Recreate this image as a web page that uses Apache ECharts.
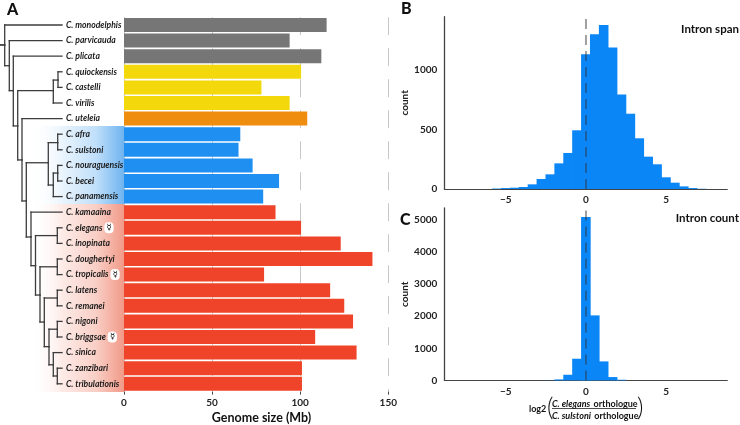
<!DOCTYPE html>
<html>
<head>
<meta charset="utf-8">
<style>html,body{margin:0;padding:0;background:#fff}#c{width:740px;height:425px}</style>
<script src="https://cdn.jsdelivr.net/npm/echarts@6/dist/echarts.min.js"></script>
</head>
<body>
<div id="c"></div>
<script>
const species = ['C. monodelphis','C. parvicauda','C. plicata','C. quiockensis','C. castelli','C. virilis','C. uteleia','C. afra','C. sulstoni','C. nouraguensis','C. becei','C. panamensis','C. kamaaina','C. elegans','C. inopinata','C. doughertyi','C. tropicalis','C. latens','C. remanei','C. nigoni','C. briggsae','C. sinica','C. zanzibari','C. tribulationis'];
const genomeSize = [115,94,112,100.5,78,94,104,66,65,73,88,79,86,100.5,123,141,79.5,117,125,130,108.5,132,101,101];
const cladeOfSpecies = ['g','g','g','y','y','y','o','b','b','b','b','b','r','r','r','r','r','r','r','r','r','r','r','r'];
const hermaphrodites = ['C. elegans','C. tropicalis','C. briggsae'];
const genomeTicks = [0,50,100,150];
// tree: [id, parent, depth, row]
const treeNodes = [
 ['root',null,0,1.28],['n1','root',4.7,1.28],['n2','n1',9.3,2.61],['n3','n2',13.3,4.21],['n4','n3',17.7,6.47],
 ['n5','n4',53.3,4.21],['n6','n5',58,3.53],['n7','n4',22,8.65],['n8','n7',26.3,11.28],['n9','n8',48.3,8.83],
 ['n10','n9',57.7,7.54],['n11','n9',53.3,10.26],['n12','n11',57.7,9.49],['n13','n8',31,13.59],['n14','n13',35.5,15.43],
 ['n15','n14',57.3,13.5],['n16','n14',40,17.31],['n17','n16',57.3,15.5],['n18','n16',44.3,19.04],['n19','n18',57.3,17.5],
 ['n20','n18',49,20.62],['n21','n20',57.3,19.5],['n22','n20',53.3,21.78],['n23','n22',57.3,22.5]
];
const tipParents = ['n1','n2','n3','n6','n6','n5','n7','n10','n10','n12','n12','n11','n13','n15','n15','n17','n17','n19','n19','n21','n21','n22','n23','n23'];
const tipDepth = 62;
// histograms: bin centre = index * binWidth
const binWidth = 0.555;
const spanBins = [-10,-9,-8,-7,-6,-5,-4,-3,-2,-1,0,1,2,3,4,5,6,7,8,9,10,11,12,13];
const spanCounts = [4,8,11,17,39,84,123,215,302,492,1129,1296,1375,1185,793,631,425,271,207,98,53,22,8,2];
const countBins = [-4,-3,-2,-1,0,1,2,3,4];
const countCounts = [5,31,176,675,5088,2025,592,104,20];
const spanTicks = [0,500,1000];
const countTicks = [0,1000,2000,3000,4000,5000];

const palette = {g:'#767676',y:'#f3d80c',o:'#ef8e0e',b:'#1f90f2',r:'#f0442a'};
const F = 'Lato,"Noto Sans",sans-serif';
const axisText = {fontFamily:F,fontSize:10,fontWeight:700,color:'#222'};
const nodeMap = Object.fromEntries(treeNodes.map(n=>[n[0],n]));
const segments = [];
treeNodes.forEach(n=>{ if(n[1]){ const p=nodeMap[n[1]]; segments.push([p[2],p[3],p[2],n[3]],[p[2],n[3],n[2],n[3]]); }});
segments.push([0,nodeMap.root[3],nodeMap.n1[2],nodeMap.root[3]]);
tipParents.forEach((pid,i)=>{ const p=nodeMap[pid]; segments.push([p[2],p[3],p[2],i],[p[2],i,tipDepth,i]); });

function histGrid(idx,top,height,ymax,ticks,bins,counts){
  return {
    grid:{left:444.3,width:283,top,height},
    xAxis:{gridIndex:idx,type:'value',min:-8.83,max:8.82,
      axisLine:{show:true,onZero:false,lineStyle:{color:'#444',width:1}},axisTick:{show:false},splitLine:{show:false},
      axisLabel:Object.assign({show:true,margin:6,customValues:[-5,0,5],formatter:v=>String(v).replace('-','\u2212')},axisText)},
    yAxis:{gridIndex:idx,type:'value',min:0,max:ymax,
      axisLine:{show:true,onZero:false,lineStyle:{color:'#444',width:1.3}},axisTick:{show:false},splitLine:{show:false},
      axisLabel:Object.assign({margin:7,customValues:ticks,formatter:v=>String(v)},axisText),
      name:'count',nameLocation:'middle',nameGap:32,nameTextStyle:Object.assign({},axisText)},
    series:{type:'bar',xAxisIndex:idx,yAxisIndex:idx,barWidth:9.6,z:3,itemStyle:{color:'#0a86f7'},
      data:bins.map((b,i)=>[b*binWidth,counts[i]]),
      markLine:{silent:true,symbol:'none',label:{show:false},z:5,animation:false,
        lineStyle:{type:[10,6],color:'rgba(50,50,50,0.5)',width:1.8},data:[{xAxis:0}]}}
  };
}
const B = histGrid(1,16.7,172.3,1444,spanTicks,spanBins,spanCounts);
const C = histGrid(2,208,172.4,5370,countTicks,countBins,countCounts);

const tStyle = (text,font,x,y,align)=>({type:'text',x,y,z:10,silent:true,style:{text,font,fill:'#111',textAlign:align||'left',textVerticalAlign:'middle'}});
const fracRich = {i:{font:'italic 700 9px Lato',fill:'#111'},n:{font:'700 9px Lato',fill:'#111'}};

const option = {
  animation:false,
  graphic:[
    {type:'rect',shape:{x:30,y:126,width:94,height:78},z:0,silent:true,
      style:{fill:new echarts.graphic.LinearGradient(0,0,1,0,[{offset:0,color:'rgba(255,255,255,0)'},{offset:0.35,color:'#e9f4fd'},{offset:0.7,color:'#c0dffa'},{offset:1,color:'#70b4f0'}])}},
    {type:'rect',shape:{x:30,y:204,width:94,height:188},z:0,silent:true,
      style:{fill:new echarts.graphic.LinearGradient(0,0,1,0,[{offset:0,color:'rgba(255,255,255,0)'},{offset:0.35,color:'#fdeae6'},{offset:0.7,color:'#f9cfc6'},{offset:1,color:'#f19a88'}])}},
    tStyle('A','900 16px Lato',7,9.5),tStyle('B','900 16px Lato',401,8.5),tStyle('C','900 16px Lato',400,220),
    tStyle('Intron span','700 11.5px Lato',739,29,'right'),tStyle('Intron count','700 11.5px Lato',739,218,'right'),
    tStyle('Genome size (Mb)','700 12.5px Lato',261.5,418,'center'),
    tStyle('log2','700 9px Lato',529,409),
    {type:'text',x:547,y:408,z:10,silent:true,style:{text:'(',font:'300 25px Lato',fill:'#111',textVerticalAlign:'middle'}},
    {type:'text',x:637,y:408,z:10,silent:true,style:{text:')',font:'300 25px Lato',fill:'#111',textVerticalAlign:'middle'}},
    {type:'text',x:552,y:398,z:10,silent:true,style:{rich:fracRich,text:'{i|C. elegans} {n|orthologue}'}},
    {type:'text',x:552,y:410,z:10,silent:true,style:{rich:fracRich,text:'{i|C. sulstoni} {n|orthologue}'}},
    {type:'line',shape:{x1:552,y1:408.5,x2:636,y2:408.5},z:10,silent:true,style:{stroke:'#222',lineWidth:0.8}}
  ],
  grid:[{left:124,width:264.3,top:17.2,height:374.4},B.grid,C.grid,{left:0,width:124,top:17.2,height:374.4}],
  xAxis:[
    {gridIndex:0,type:'value',min:0,max:150,interval:50,
      axisLine:{show:false},axisTick:{show:true,length:3,lineStyle:{color:'#444'}},
      splitLine:{show:true,lineStyle:{color:'#c8c8c8',type:[18,13],width:1}},
      axisLabel:Object.assign({margin:6,customValues:genomeTicks,
        formatter:v=>v===150?'{t|150}':String(v),
        rich:{t:Object.assign({},axisText,{padding:[0,0,6,0]})}},axisText)},
    B.xAxis,C.xAxis,
    {gridIndex:3,type:'value',min:0,max:124,show:false}
  ],
  yAxis:[
    {gridIndex:0,type:'category',inverse:true,data:species,
      axisLine:{show:false},axisTick:{show:false},
      axisLabel:{interval:0,align:'left',margin:58,fontFamily:F,fontSize:8.6,fontStyle:'italic',fontWeight:700,color:'#1a1a1a',
        formatter:v=>hermaphrodites.includes(v)?v+' {h|\u263F}':v,
        rich:{h:{fontFamily:'DejaVu Sans',fontSize:8.5,fontStyle:'normal',color:'#111',backgroundColor:'#fff',borderRadius:4,padding:[1,2,1,2]}}}},
    B.yAxis,C.yAxis,
    {gridIndex:3,type:'value',inverse:true,min:-0.5,max:23.5,show:false}
  ],
  series:[
    {type:'bar',xAxisIndex:0,yAxisIndex:0,barWidth:14,z:3,
      data:genomeSize.map((v,i)=>({value:v,itemStyle:{color:palette[cladeOfSpecies[i]]}}))},
    B.series,C.series,
    {type:'custom',xAxisIndex:3,yAxisIndex:3,z:4,silent:true,clip:false,
      data:segments,encode:{x:[0,2],y:[1,3]},
      renderItem:(params,api)=>{
        const a=api.coord([api.value(0),api.value(1)]), b=api.coord([api.value(2),api.value(3)]);
        return {type:'line',shape:{x1:a[0],y1:a[1],x2:b[0],y2:b[1]},style:{stroke:'#3c3c3c',lineWidth:1.3,lineCap:'square'}};
      }}
  ]
};
echarts.init(document.getElementById('c'),null,{renderer:'canvas'}).setOption(option);
</script>
</body>
</html>
